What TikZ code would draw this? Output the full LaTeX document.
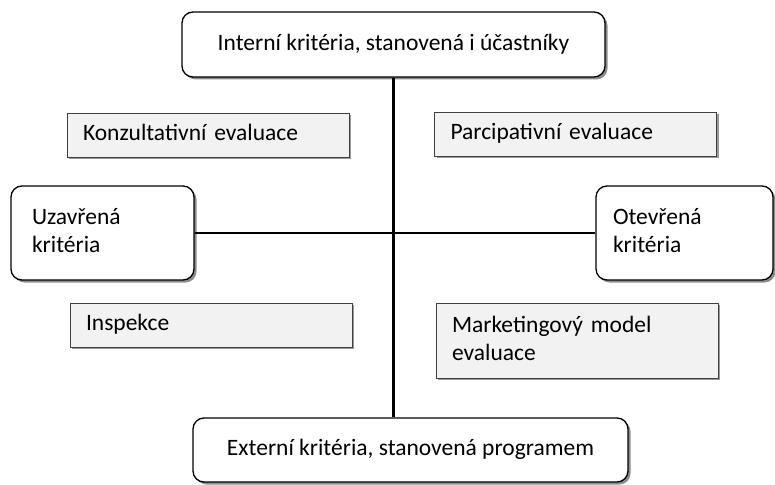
\documentclass[tikz,border=0pt]{standalone}
\usepackage{fontspec}
\setmainfont{Carlito}
\usetikzlibrary{shadows}

\begin{document}
\begin{tikzpicture}[x=1pt,y=-1pt]
            \tikzstyle{every node}+=[font=\fontsize{23.5}{28}\selectfont, execute at begin node=\strut, execute at end node=\strut]
            \tikzstyle{critbox}=[draw=black, line width=1.3pt, fill=white, rounded corners=11pt, drop shadow={shadow xshift=2.5pt, shadow yshift=-2.5pt, fill=black!45, opacity=1}]
            \tikzstyle{modelbox}=[draw=black!75, line width=1pt, fill=black!5, align=left, inner xsep=16pt, text width=250pt, drop shadow={shadow xshift=2pt, shadow yshift=-2pt, fill=black!40, opacity=1}]
            \useasboundingbox (0,0) rectangle (775,484);
            % axes ends
            \node [critbox, minimum width=423pt, minimum height=65pt] (intern) at (393.5,44.5) {Interní kritéria, stanovená i účastníky};
            \node [critbox, minimum width=435pt, minimum height=64pt] (extern) at (410.5,450) {Externí kritéria, stanovená programem};
            \node [critbox, align=left, inner xsep=21pt, text width=141pt, minimum height=94pt] (closed) at (102.5,233) {Uzavřená\\kritéria};
            \node [critbox, align=left, inner xsep=17pt, text width=143pt, minimum height=94pt] (open) at (684.5,233) {Otevřená\\kritéria};
            % axes
            \draw [line width=2.8pt] (intern) -- (intern |- extern.north);
            \draw [line width=2.8pt] (closed) -- (open);
            % quadrants
            \node [modelbox, minimum height=44pt] (consult) at (208,135) {Konzultativní evaluace};
            \node [modelbox, minimum height=44pt] (particip) at (575.5,134) {Parcipativní evaluace};
            \node [modelbox, minimum height=44pt] (inspect) at (211,325) {Inspekce};
            \node [modelbox, minimum height=75pt] (market) at (577,340.5) {Marketingový model\\evaluace};
        \end{tikzpicture}
\end{document}
